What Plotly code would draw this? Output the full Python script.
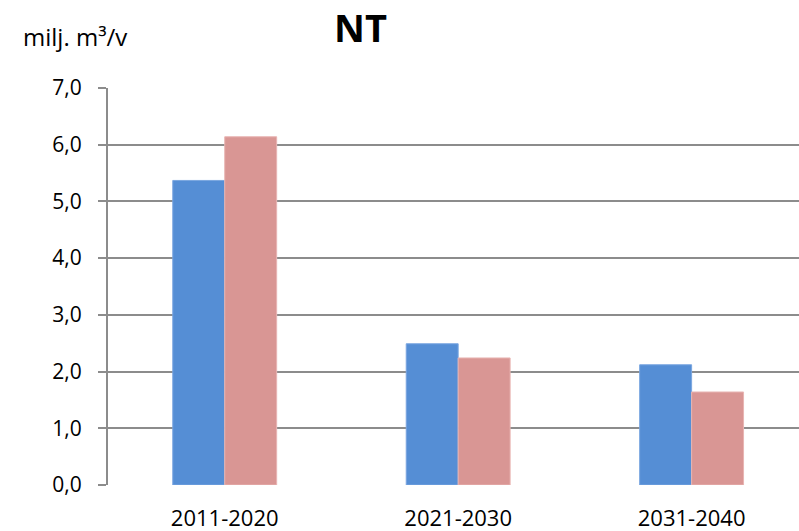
import plotly.graph_objects as go

categories = ["2011-2020", "2021-2030", "2031-2040"]
series_a = [5.37, 2.49, 2.12]
series_b = [6.14, 2.24, 1.64]
y_ticks = [0, 1, 2, 3, 4, 5, 6, 7]
y_tick_labels = ["0,0", "1,0", "2,0", "3,0", "4,0", "5,0", "6,0", "7,0"]

font_family = "Open Sans, Liberation Sans, sans-serif"
W, H = 799, 531
L, R, T, B = 108, 0, 88, 46

fig = go.Figure()
fig.add_bar(x=categories, y=series_a, marker=dict(color="#558ED5", line=dict(color="#7AA6E0", width=1)), name="A")
fig.add_bar(x=categories, y=series_b, marker=dict(color="#D99694", line=dict(color="#E8B5B3", width=1)), name="B")


def px_to_paper(px, py):
    return (px - L) / (W - L - R), (H - B - py) / (H - T - B)


tx, ty = px_to_paper(360, 27)
ux, uy = px_to_paper(75, 37)

fig.update_layout(
    width=W, height=H,
    margin=dict(l=L, r=R, t=T, b=B),
    paper_bgcolor="white", plot_bgcolor="white",
    barmode="group", bargap=0.555, bargroupgap=0,
    showlegend=False,
    font=dict(family=font_family, color="black", size=21),
    annotations=[
        dict(text="<b>NT</b>", x=tx, y=ty, xref="paper", yref="paper", showarrow=False,
             xanchor="center", yanchor="middle", font=dict(size=38, family=font_family)),
        dict(text="milj. m³/v", x=ux, y=uy, xref="paper", yref="paper", showarrow=False,
             xanchor="center", yanchor="middle", font=dict(size=24, family=font_family)),
    ],
)

fig.update_xaxes(range=[-0.5, 2.46], showgrid=False, showline=False, ticks="",
                 tickfont=dict(size=22), ticklabelstandoff=18, automargin=False)
fig.update_yaxes(range=[0, 7], tickvals=y_ticks, ticktext=y_tick_labels,
                 showgrid=True, gridcolor="#8C8C8C", gridwidth=2,
                 showline=True, linecolor="#8C8C8C", linewidth=2,
                 ticks="outside", ticklen=8, tickcolor="#8C8C8C", tickwidth=2,
                 zeroline=False, tickfont=dict(size=21), ticklabelstandoff=12,
                 automargin=False)

fig.write_html("out.html", config={"displayModeBar": False},
               post_script="document.body.style.margin='0';")
